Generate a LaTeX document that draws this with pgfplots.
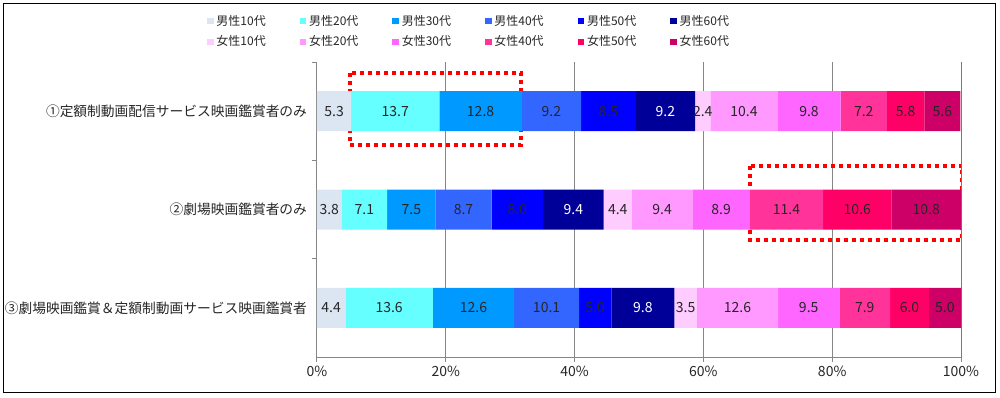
\documentclass[border=0pt]{standalone}
\usepackage{pgfplots}
\pgfplotsset{compat=1.18}
\usepackage{pgfplotstable}
\usepackage{fontspec}
\setmainfont{Noto Sans CJK JP}
\definecolor{m10}{HTML}{DCE6F2}
\definecolor{m20}{HTML}{66FFFF}
\definecolor{m30}{HTML}{0099FF}
\definecolor{m40}{HTML}{3366FF}
\definecolor{m50}{HTML}{0000FF}
\definecolor{m60}{HTML}{000099}
\definecolor{f10}{HTML}{FFCCFF}
\definecolor{f20}{HTML}{FF99FF}
\definecolor{f30}{HTML}{FF66FF}
\definecolor{f40}{HTML}{FF3399}
\definecolor{f50}{HTML}{FF0066}
\definecolor{f60}{HTML}{CC0066}
\definecolor{axgray}{HTML}{868686}
\pgfplotstableread{
y m10 m20 m30 m40 m50 m60 f10 f20 f30 f40 f50 f60
2 5.3 13.7 12.8 9.2 8.5 9.2 2.4 10.4 9.8 7.2 5.8 5.6
1 3.8 7.1 7.5 8.7 8.0 9.4 4.4 9.4 8.9 11.4 10.6 10.8
0 4.4 13.6 12.6 10.1 5.0 9.8 3.5 12.6 9.5 7.9 6.0 5.0
}\data
\begin{document}
\begin{tikzpicture}
\path (0,0) rectangle (750pt,297.75pt);
\draw[line width=0.75pt] (2.25pt,3.75pt) rectangle (746.25pt,294.75pt);
\begin{axis}[
  at={(237.75pt,30pt)}, anchor=south west,
  scale only axis, width=483pt, height=221.25pt,
  xbar stacked, bar width=30pt,
  xmin=0, xmax=100, ymin=-0.5, ymax=2.5,
  /pgf/number format/assume math mode=true,
  axis x line*=bottom, axis y line*=left,
  axis line style={axgray, line width=0.75pt},
  tick align=outside,
  major tick length=3.5pt,
  tick style={axgray, line width=0.75pt},
  xtick={0,20,40,60,80,100},
  xticklabels={0\%,20\%,40\%,60\%,80\%,100\%},
  xticklabel style={font=\fontsize{10.5}{12}\selectfont, text=black!85},
  xmajorgrids=true,
  grid style={axgray, line width=0.75pt},
  ytick={0.5,1.5,2.5},
  yticklabels={},
  extra y ticks={0,1,2},
  extra y tick labels={③劇場映画鑑賞＆定額制動画サービス映画鑑賞者,②劇場映画鑑賞者のみ,①定額制動画配信サービス映画鑑賞者のみ},
  extra y tick style={major tick length=0pt, ymajorgrids=false, yticklabel style={font=\fontsize{10.3}{12}\selectfont, text=black!85, xshift=-4pt}},
  visualization depends on=rawx \as \rawx,
  nodes near coords={\pgfmathprintnumber[fixed,fixed zerofill,precision=1]{\rawx}},
  every node near coord/.append style={anchor=center, font=\fontsize{10.5}{12}\selectfont, text=black!85},
  legend columns=6,
  legend style={at={(-0.171,1.169)}, anchor=north west, draw=none, fill=none, inner sep=0pt,
    font=\fontsize{9}{10}\selectfont, text=black!85,
    /tikz/every even column/.append style={column sep=23.5pt}, row sep=2.5pt},
  legend image code/.code={\fill[#1] (0pt,-2.5pt) rectangle (5pt,2.5pt);},
  legend cell align=left,
]
\addplot[fill=m10, draw=none] table[x=m10,y=y] {\data};
\addplot[fill=m20, draw=none] table[x=m20,y=y] {\data};
\addplot[fill=m30, draw=none] table[x=m30,y=y] {\data};
\addplot[fill=m40, draw=none] table[x=m40,y=y] {\data};
\addplot[fill=m50, draw=none] table[x=m50,y=y] {\data};
\addplot[fill=m60, draw=none, every node near coord/.append style={text=white}] table[x=m60,y=y] {\data};
\addplot[fill=f10, draw=none] table[x=f10,y=y] {\data};
\addplot[fill=f20, draw=none] table[x=f20,y=y] {\data};
\addplot[fill=f30, draw=none] table[x=f30,y=y] {\data};
\addplot[fill=f40, draw=none] table[x=f40,y=y] {\data};
\addplot[fill=f50, draw=none] table[x=f50,y=y] {\data};
\addplot[fill=f60, draw=none] table[x=f60,y=y] {\data};
\legend{男性10代,男性20代,男性30代,男性40代,男性50代,男性60代,女性10代,女性20代,女性30代,女性40代,女性50代,女性60代}
\draw[black!85, line width=0.75pt] (axis cs:100,-0.5) -- (axis cs:100,2.5);
\draw[red, line width=3pt, dash pattern=on 3pt off 3pt] (axis cs:5.1,2.388) rectangle (axis cs:31.7,1.656);
\draw[red, line width=3pt, dash pattern=on 3pt off 3pt] (axis cs:67.2,1.442) rectangle (axis cs:100.2,0.69);
\end{axis}
\end{tikzpicture}
\end{document}
